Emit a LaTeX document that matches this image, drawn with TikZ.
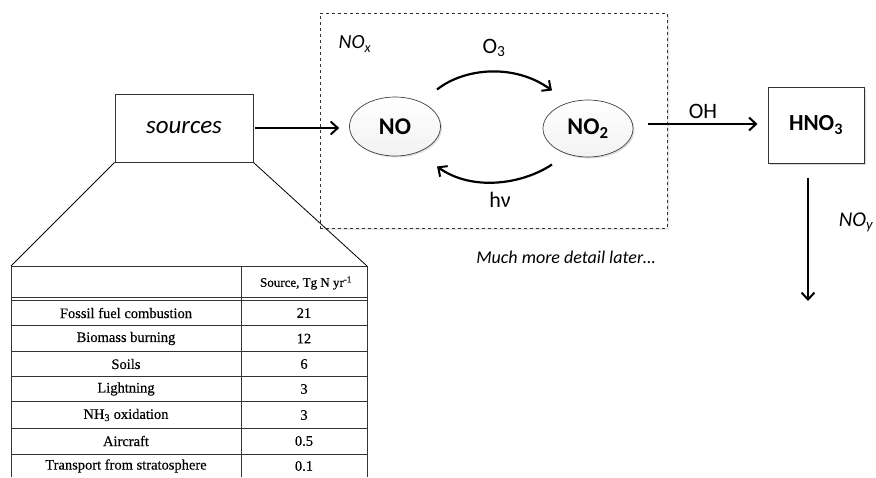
\documentclass[tikz,border=0pt]{standalone}
\usepackage{fontspec}
\setmainfont{Carlito}
\newfontfamily\tabfont[FakeBold=0.4]{Liberation Serif}
\usetikzlibrary{arrows.meta,shadows,calc,shapes.geometric}
\begin{document}
\begin{tikzpicture}[x=1pt,y=-1pt,
  arr/.style={line width=2.2pt,-{Straight Barb[length=7pt,width=13pt,line width=2pt]}},
  oval/.style={ellipse,draw=black!75,line width=0.7pt,top color=white,bottom color=black!5,
     drop shadow={opacity=0.25,shadow xshift=1.5pt,shadow yshift=-1.5pt},
     minimum width=91pt,minimum height=59pt,font=\fontsize{24}{28}\selectfont\bfseries},
  lbl/.style={font=\fontsize{22}{26}\selectfont},
  tline/.style={draw=black!80,line width=0.8pt},
  tcell/.style={font=\tabfont\fontsize{14.5}{16}\selectfont},
  fan/.style={draw=black,line width=0.8pt}]
\useasboundingbox (0,0) rectangle (876,477);
% dashed NOx box
\node[draw=black!80,dashed,line width=0.7pt,fill=white,minimum width=347pt,minimum height=215pt,
  drop shadow={opacity=0.18,shadow xshift=2pt,shadow yshift=-2pt}] (box) at (493.5,120.5) {};
\node[font=\fontsize{20}{24}\selectfont\itshape] (noxlbl) at (355,44) {NO\textsubscript{x}};
% ellipses
\node[oval] (NO) at (395,126.5) {NO};
\node[oval,minimum width=90pt,minimum height=57pt] (NO2) at (588,128.5) {NO\textsubscript{2}};
% cycle arrows
\draw[arr] ($(NO)+(42,-37)$) .. controls ($(NO)+(70,-59)$) and ($(NO)+(120,-63)$) .. ($(NO2)+(-36,-38)$);
\node[lbl] (o3) at (494,48) {O\textsubscript{3}};
\draw[arr] ($(NO2)+(-36,36)$) .. controls ($(NO2)+(-66,56)$) and ($(NO2)+(-116,63)$) .. ($(NO)+(42,40)$);
\node[lbl] (hv) at (500,200) {hν};
% sources
\node[draw=black!80,line width=0.9pt,minimum width=138pt,minimum height=68pt,
  font=\fontsize{25}{30}\selectfont\itshape] (src) at (184,128) {sources};
\draw[arr] ($(src.east)+(2,0)$) -- ($(src.east -| NO.west)+(-10,0)$);
% HNO3
\node[draw=black!80,line width=1pt,fill=white,minimum width=96pt,minimum height=76pt,
  drop shadow={opacity=0.3,shadow xshift=2pt,shadow yshift=-2pt},
  font=\fontsize{23}{27}\selectfont\bfseries] (hno3) at (816,125) {HNO\textsubscript{3}};
\draw[arr] ($(NO2.east)+(15,-4.5)$) -- ($(hno3.west)+(-10,-1)$);
\node[lbl] (oh) at (703,111) {OH};
\coordinate (sink) at (808,301);
\draw[arr] ($(hno3.south)+(-8,14)$) -- (sink);
\node[font=\fontsize{21}{25}\selectfont\itshape] (noy) at (856,222) {NO\textsubscript{y}};
\node[font=\fontsize{18}{22}\selectfont\itshape] (later) at (566,257) {Much more detail later…};
% table
\coordinate (tl) at (11,266);
\coordinate (tr) at (367,266);
\draw[fan] (src.south west) -- (tl);
\draw[fan] (src.south east) -- (tr);
\draw[tline] (11,477) -- (tl) -- (tr) -- (367,477);
\draw[tline] (241,266) -- (241,477);
\draw[tline] (11,297.5) -- (367,297.5);
\draw[tline] (11,300.5) -- (367,300.5);
\foreach \yy in {325,351.5,376.5,401.5,428,454} \draw[tline] (11,\yy) -- (367,\yy);
\node[tcell,font=\tabfont\fontsize{13}{15}\selectfont] (h2) at (306,283) {Source, Tg N yr\textsuperscript{-1}};
\node[tcell] (r1a) at (126,313) {Fossil fuel combustion};
\node[tcell] (r1b) at (304,313) {21};
\node[tcell] (r2a) at (126,338.5) {Biomass burning};
\node[tcell] (r2b) at (304,338.5) {12};
\node[tcell] (r3a) at (126,364) {Soils};
\node[tcell] (r3b) at (304,364) {6};
\node[tcell] (r4a) at (126,389) {Lightning};
\node[tcell] (r4b) at (304,389) {3};
\node[tcell] (r5a) at (126,415) {NH\textsubscript{3} oxidation};
\node[tcell] (r5b) at (304,415) {3};
\node[tcell] (r6a) at (126,441) {Aircraft};
\node[tcell] (r6b) at (304,441) {0.5};
\node[tcell] (r7a) at (126,466) {Transport from stratosphere};
\node[tcell] (r7b) at (304,466) {0.1};
\end{tikzpicture}
\end{document}
